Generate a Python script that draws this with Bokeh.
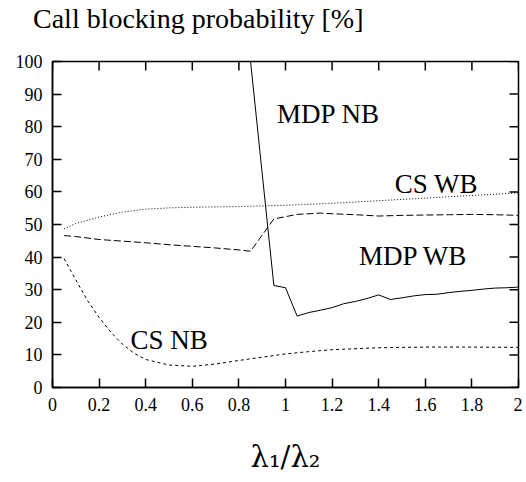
import math
from bokeh.plotting import figure
from bokeh.models import Label, FixedTicker, Range1d, Div
from bokeh.layouts import column
from bokeh.embed import file_html
from bokeh.resources import INLINE

# ---- data ----
mdp_nb_x = [0.85, 0.95, 1.0, 1.05, 1.1, 1.15, 1.2, 1.25, 1.3, 1.35, 1.4, 1.45, 1.5,
            1.55, 1.6, 1.65, 1.7, 1.75, 1.8, 1.85, 1.9, 1.95, 2.0]
mdp_nb_y = [100.0, 31.3, 30.6, 21.9, 23.0, 23.7, 24.5, 25.7, 26.4, 27.3, 28.4, 27.0, 27.5,
            28.1, 28.5, 28.6, 29.1, 29.5, 29.8, 30.2, 30.5, 30.6, 30.8]

mdp_wb_x = [0.05, 0.1, 0.2, 0.3, 0.4, 0.5, 0.6, 0.7, 0.8, 0.85, 0.95, 1.0, 1.05, 1.1,
            1.15, 1.2, 1.3, 1.4, 1.5, 1.6, 1.7, 1.8, 1.9, 2.0]
mdp_wb_y = [46.6, 46.3, 45.4, 44.9, 44.4, 43.8, 43.3, 42.8, 42.2, 41.8, 51.7, 52.4, 53.1, 53.3,
            53.5, 53.3, 53.0, 52.6, 52.8, 52.9, 53.0, 53.1, 53.0, 52.8]

cs_wb_x = [0.05, 0.1, 0.2, 0.3, 0.4, 0.5, 0.6, 0.8, 1.0, 1.2, 1.4, 1.6, 1.8, 2.0]
cs_wb_y = [48.7, 50.3, 52.3, 53.8, 54.7, 55.1, 55.3, 55.5, 55.9, 56.5, 57.3, 58.1, 58.9, 59.7]

cs_nb_x = [0.05, 0.1, 0.15, 0.2, 0.25, 0.3, 0.35, 0.4, 0.5, 0.6, 0.7, 0.8, 0.9, 1.0,
           1.1, 1.2, 1.4, 1.6, 1.8, 2.0]
cs_nb_y = [39.5, 33.0, 26.7, 21.5, 17.0, 13.3, 10.5, 8.6, 6.9, 6.5, 7.2, 8.3, 9.3, 10.3,
           11.0, 11.6, 12.2, 12.4, 12.4, 12.3]

x_min, x_max = 0, 2
y_min, y_max = 0, 100
x_ticks = [0, 0.2, 0.4, 0.6, 0.8, 1.0, 1.2, 1.4, 1.6, 1.8, 2.0]
x_tick_labels = {0: "0", 0.2: "0.2", 0.4: "0.4", 0.6: "0.6", 0.8: "0.8", 1.0: "1",
                 1.2: "1.2", 1.4: "1.4", 1.6: "1.6", 1.8: "1.8", 2.0: "2"}
y_ticks = [0, 10, 20, 30, 40, 50, 60, 70, 80, 90, 100]

title_text = "Call blocking probability [%]"
x_label_text = "λ₁/λ₂"
curve_labels = ["MDP NB", "CS WB", "MDP WB", "CS NB"]
curve_label_pos = [(0.964, 84.0), (1.469, 62.3), (1.315, 40.2), (0.335, 14.6)]

FONT = "Liberation Serif"
TITLE_H = 42

title_div = Div(text=title_text, width=522, height=TITLE_H, margin=0,
                styles={"font-family": FONT, "font-size": "28px", "color": "black",
                        "line-height": "1", "padding-left": "33px", "padding-top": "5px",
                        "white-space": "nowrap", "box-sizing": "border-box"})

p = figure(width=522, height=478 - TITLE_H, output_backend="svg", toolbar_location=None,
           title=None, x_range=Range1d(x_min, x_max), y_range=Range1d(y_min, y_max),
           min_border_left=52, min_border_right=4, min_border_top=61 - TITLE_H,
           min_border_bottom=91, margin=0)
p.grid.visible = False
p.background_fill_color = "white"
p.border_fill_color = "white"
p.outline_line_color = "black"
p.outline_line_width = 1.5

xa = p.below[0]
ya = p.left[0]

for ax in (xa, ya):
    ax.major_tick_in = 9
    ax.major_tick_out = 0
    ax.minor_tick_line_color = None
    ax.axis_line_color = "black"
    ax.axis_line_width = 1.5
    ax.major_tick_line_width = 1.5
    ax.major_label_text_font = FONT
    ax.major_label_text_font_size = "18px"
    ax.major_label_text_color = "black"
    ax.major_label_standoff = 10

xa.ticker = FixedTicker(ticks=x_ticks)
xa.major_label_overrides = x_tick_labels
ya.ticker = FixedTicker(ticks=y_ticks)

xa.axis_label = x_label_text
xa.axis_label_text_font = "DejaVu Serif"
xa.axis_label_text_font_style = "normal"
xa.axis_label_text_font_size = "29px"
xa.axis_label_text_color = "black"
xa.axis_label_standoff = 26

# mirrored inward ticks on top and right edges (clipped to the frame)
p.scatter(x_ticks, [y_max] * len(x_ticks), marker="dash", size=18, angle=math.pi / 2,
          line_color="black", line_width=1.5)
p.scatter([x_max] * len(y_ticks), y_ticks, marker="dash", size=18, angle=0,
          line_color="black", line_width=1.5)

p.line(mdp_nb_x, mdp_nb_y, line_color="black", line_width=1)
p.line(mdp_wb_x, mdp_wb_y, line_color="black", line_width=1, line_dash="7 3")
p.line(cs_wb_x, cs_wb_y, line_color="black", line_width=1, line_dash="1 2")
p.line(cs_nb_x, cs_nb_y, line_color="black", line_width=1, line_dash="3 3")

for txt, (lx, ly) in zip(curve_labels, curve_label_pos):
    p.add_layout(Label(x=lx, y=ly, text=txt, text_font=FONT, text_font_size="27px",
                       text_color="black", text_baseline="alphabetic", text_align="left"))

layout = column(title_div, p, spacing=0)
open("out.html", "w").write(file_html(layout, INLINE))
